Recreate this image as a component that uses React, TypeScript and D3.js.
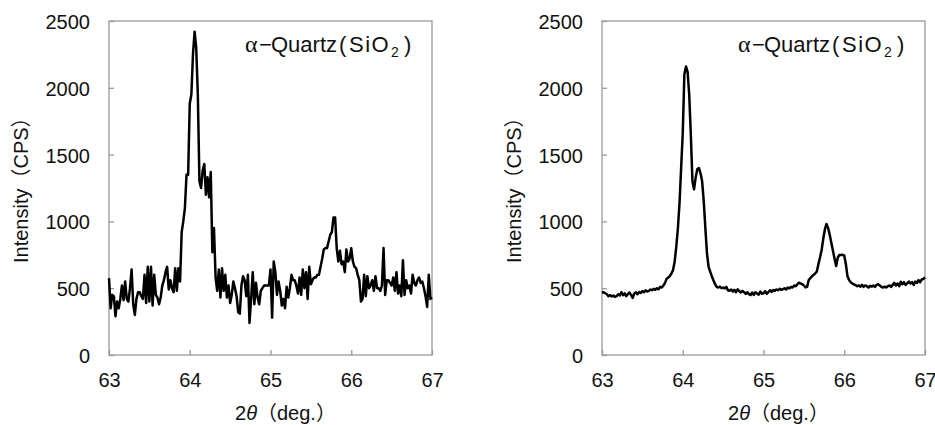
import React, { useEffect, useRef } from 'react';
import * as d3 from 'd3';

// scan: 63 -> 67 deg, 0.02 deg step
const thetaStart = 63;
const thetaStep = 0.02;
const xTicks = [63, 64, 65, 66, 67];
const yTicks = [0, 500, 1000, 1500, 2000, 2500];

// left panel (noisy scan), one row = 0.2 deg
const leftCounts = [
  575, 350, 450, 440, 290, 400, 350, 420, 520, 410, // 63.0
  550, 420, 400, 500, 640, 380, 300, 420, 470, 470, // 63.2
  440, 420, 600, 390, 660, 400, 660, 370, 600, 450, // 63.4
  430, 380, 430, 520, 560, 620, 660, 490, 560, 500, // 63.6
  470, 650, 480, 650, 550, 920, 1000, 1100, 1350, 1350, // 63.8
  1880, 1950, 2250, 2420, 2300, 1950, 1300, 1250, 1380, 1430, // 64.0
  1200, 1330, 1180, 1370, 770, 950, 580, 480, 640, 430, // 64.2
  650, 480, 600, 430, 520, 390, 450, 550, 500, 440, // 64.4
  320, 310, 520, 590, 560, 440, 600, 240, 420, 620, // 64.6
  380, 540, 430, 380, 480, 500, 520, 520, 520, 520, // 64.8
  640, 280, 700, 620, 450, 550, 480, 370, 420, 350, // 65.0
  510, 430, 500, 600, 560, 560, 520, 460, 580, 450, // 65.2
  640, 500, 620, 420, 660, 530, 560, 580, 580, 600, // 65.4
  600, 660, 720, 790, 800, 800, 850, 900, 920, 1030, // 65.6
  1030, 800, 700, 780, 680, 700, 620, 790, 700, 720, // 65.8
  800, 700, 660, 650, 600, 560, 400, 420, 600, 440, // 66.0
  590, 500, 520, 560, 480, 590, 500, 500, 480, 520, // 66.2
  800, 450, 560, 560, 540, 520, 580, 480, 620, 460, // 66.4
  520, 440, 710, 450, 560, 500, 520, 460, 600, 540, // 66.6
  520, 560, 580, 540, 550, 500, 440, 360, 600, 420, // 66.8
  430, // 67.0
];

// right panel (smooth scan)
const rightCounts = [
  465, 470, 462, 455, 440, 448, 438, 445, 435, 440, // 63.0
  455, 445, 470, 448, 462, 440, 455, 468, 450, 428, // 63.2
  460, 470, 455, 472, 465, 478, 470, 485, 475, 480, // 63.4
  490, 485, 495, 488, 500, 492, 510, 505, 520, 540, // 63.6
  570, 580, 590, 610, 636, 700, 811, 950, 1137, 1400, // 63.8
  1660, 2100, 2160, 2120, 1950, 1650, 1300, 1240, 1330, 1390, // 64.0
  1400, 1360, 1300, 1150, 950, 760, 660, 624, 590, 560, // 64.2
  530, 510, 505, 512, 500, 505, 498, 510, 485, 481, // 64.4
  490, 475, 488, 470, 492, 478, 468, 480, 470, 458, // 64.6
  470, 455, 449, 468, 450, 470, 460, 452, 475, 458, // 64.8
  462, 478, 458, 470, 485, 472, 487, 480, 490, 485, // 65.0
  495, 488, 492, 500, 490, 505, 498, 510, 505, 520, // 65.2
  515, 530, 541, 535, 530, 520, 506, 510, 561, 575, // 65.4
  590, 600, 610, 624, 680, 730, 786, 870, 940, 981, // 65.6
  950, 900, 840, 780, 720, 666, 730, 748, 748, 750, // 65.8
  745, 680, 590, 561, 545, 535, 528, 524, 515, 520, // 66.0
  512, 525, 510, 520, 515, 505, 518, 512, 520, 510, // 66.2
  525, 530, 520, 510, 505, 512, 506, 515, 520, 510, // 66.4
  525, 540, 520, 535, 515, 548, 530, 545, 525, 536, // 66.6
  550, 535, 545, 525, 550, 540, 560, 545, 565, 570, // 66.8
  581, // 67.0
];

const panels = [
  { counts: leftCounts, left: 109 },
  { counts: rightCounts, left: 602 },
];

const FONT = '"Liberation Sans", Arial, "Noto Sans CJK JP", sans-serif';

const App = () => {
  const ref = useRef<SVGSVGElement>(null);

  useEffect(() => {
    if (!ref.current) return;
    const svg = d3.select(ref.current);
    svg.selectAll('*').remove();

    const plotW = 323;
    const top = 21;
    const bottom = 355;

    panels.forEach(p => {
      const x = d3.scaleLinear().domain([63, 67]).range([p.left, p.left + plotW]);
      const y = d3.scaleLinear().domain([0, 2500]).range([bottom, top]);
      const g = svg.append('g');

      g.append('rect')
        .attr('x', p.left)
        .attr('y', top)
        .attr('width', plotW)
        .attr('height', bottom - top)
        .attr('fill', 'none')
        .attr('stroke', '#9a9a9a')
        .attr('stroke-width', 1.3);

      const yAxis = g.append('g')
        .attr('transform', `translate(${p.left},0)`)
        .call(d3.axisLeft(y).tickValues(yTicks).tickFormat(d3.format('d')).tickSizeInner(-5).tickSizeOuter(0).tickPadding(19));
      const xAxis = g.append('g')
        .attr('transform', `translate(0,${bottom})`)
        .call(d3.axisBottom(x).tickValues(xTicks).tickFormat(d3.format('d')).tickSizeInner(-5).tickSizeOuter(0).tickPadding(18));

      [yAxis, xAxis].forEach(a => {
        a.select('.domain').remove();
        a.selectAll('line').attr('stroke', '#9a9a9a').attr('stroke-width', 1.3);
        a.selectAll('text')
          .style('font-family', FONT)
          .style('font-size', '20px')
          .attr('fill', '#111');
      });
      yAxis.selectAll('text').attr('dy', '0.37em');

      const line = d3.line<number>()
        .x((d, i) => x(thetaStart + i * thetaStep))
        .y(d => y(d));

      g.append('path')
        .datum(p.counts)
        .attr('d', line)
        .attr('fill', 'none')
        .attr('stroke', '#000')
        .attr('stroke-width', 2.5)
        .attr('stroke-linejoin', 'round');

      // x title
      const xt = g.append('text')
        .attr('x', p.left + 126)
        .attr('y', 420)
        .style('font-family', FONT)
        .style('font-size', '20px')
        .attr('fill', '#111');
      xt.append('tspan').text('2');
      xt.append('tspan').style('font-style', 'italic').text('θ');
      xt.append('tspan').text('（deg.）');

      // y title
      g.append('text')
        .attr('transform', `translate(${p.left - 81},263) rotate(-90)`)
        .style('font-family', FONT)
        .style('font-size', '20px')
        .attr('fill', '#111')
        .text('Intensity（CPS）');

      // phase label
      const lab = g.append('text')
        .attr('y', 52)
        .style('font-family', FONT)
        .style('font-size', '22px')
        .attr('fill', '#111');
      const lx = p.left + 136;
      lab.append('tspan').attr('x', lx).style('font-family', '"Liberation Serif", serif').style('font-size', '24px').text('α');
      lab.append('tspan').attr('x', lx + 14).text('−');
      lab.append('tspan').attr('x', lx + 26).text('Quartz');
      lab.append('tspan').attr('x', lx + 94).text('(');
      lab.append('tspan').attr('x', lx + 104).style('letter-spacing', '1.5px').text('SiO');
      lab.append('tspan').attr('x', lx + 146).attr('dy', 5).style('font-size', '14px').text('2');
      lab.append('tspan').attr('x', lx + 159).attr('dy', -5).text(')');
    });
  }, []);

  return (
    <div style={{ position: 'absolute', left: 0, top: 0 }}>
      <svg ref={ref} width={935} height={425} style={{ display: 'block', background: '#fff' }} />
    </div>
  );
};

export default App;
